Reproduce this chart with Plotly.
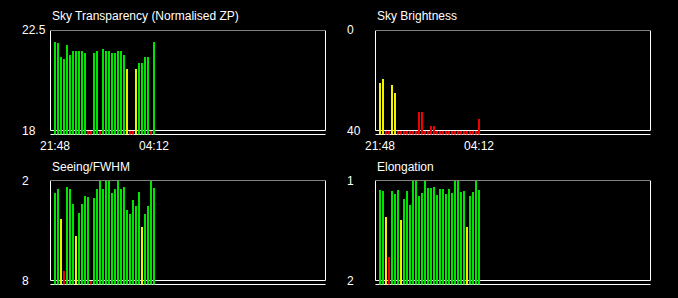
import plotly.graph_objects as go

# ---------------- data ----------------
time_labels = ["21:48", "04:12"]
n_bars = 34
slots = list(range(n_bars))

transparency = [22.0, 21.95, 21.31, 21.23, 21.85, 21.44, 21.58, 21.62, 21.62, 21.62,
                21.49, 18.0, 18.0, 21.53, 21.62, 18.0, 21.67, 21.62, 21.58, 21.53,
                21.49, 21.62, 21.62, 21.44, 20.81, 18.0, 18.0, 20.81, 21.08, 21.04,
                21.31, 21.35, 18.0, 22.0]
transparency_flags = list("ggggggggggg" + "rr" + "gg" + "r" + "gggggggg" + "y" + "rr" + "y" + "gggg" + "r" + "g")

brightness = [20.6, 19.0, 40, 40, 21.4, 24.6, 40, 40, 40, 40,
              40, 40, 40, 32.2, 32.2, 40, 40, 37.8, 37.8, 40,
              40, 40, 40, 40, 40, 40, 40, 40, 40, 40,
              40, 40, 40, 35.0]
brightness_flags = list("yyrryy" + "r" * 28)

seeing = [2.69, 2.45, 4.25, 7.37, 2.33, 2.45, 3.35, 5.27, 3.89, 3.35,
          2.87, 2.93, 7.97, 2.99, 2.45, 2.0, 2.45, 2.0, 2.0, 2.69,
          2.45, 2.0, 2.45, 2.33, 3.71, 3.95, 3.11, 3.47, 2.63, 4.73,
          3.95, 3.47, 2.0, 2.39]
seeing_flags = list("ggyrgggyggggr" + "g" * 16 + "y" + "gggg")

elongation = [1.085, 1.095, 1.355, 1.755, 1.095, 1.125, 1.085, 1.385, 1.175, 1.095,
              1.235, 1.0, 1.0, 1.145, 1.115, 1.0, 1.065, 1.065, 1.055, 1.135,
              1.075, 1.075, 1.125, 1.075, 1.115, 1.0, 1.0, 1.105, 1.095, 1.455,
              1.145, 1.105, 1.0, 1.085]
elongation_flags = list("ggyrgggy" + "g" * 21 + "y" + "gggg")

titles = ["Sky Transparency (Normalised ZP)", "Sky Brightness", "Seeing/FWHM", "Elongation"]
y_tops = [22.5, 0, 2, 1]
y_bottoms = [18, 40, 8, 2]
y_top_labels = ["22.5", "0", "2", "1"]
y_bottom_labels = ["18", "40", "8", "2"]
show_time_labels = [True, True, False, False]

# ---------------- style / layout ----------------
W, H = 678, 298
FLAG_COLORS = {"g": "#00e400", "y": "#f2f200", "r": "#f00000"}
FONT = "Liberation Sans, Arial, sans-serif"
TEXT = "#ffffff"
FS = 12

series = [(transparency, transparency_flags), (brightness, brightness_flags),
          (seeing, seeing_flags), (elongation, elongation_flags)]
# panel pixel geometry: (box left, box top)
geom = [(50.5, 30.5), (375.5, 30.5), (50.5, 180.5), (375.5, 180.5)]
BOX_W, BOX_H, GAP = 275, 100, 4

fig = go.Figure()
annotations = []
shapes = []
layout = {}

for i, ((vals, flags), (lx, ty)) in enumerate(zip(series, geom), start=1):
    top, bot = y_tops[i - 1], y_bottoms[i - 1]
    base = bot + (bot - top) * GAP / BOX_H
    sfx = "" if i == 1 else str(i)
    xa, ya = f"x{sfx}", f"y{sfx}"
    fig.add_trace(go.Bar(
        x=slots, y=[v - base for v in vals], base=base, width=2 / 3,
        marker=dict(color=[FLAG_COLORS[f] for f in flags], line=dict(width=0)),
        xaxis=xa, yaxis=ya, showlegend=False, hoverinfo="skip"))
    left = -3.5 / 3
    layout[f"xaxis{sfx}"] = dict(domain=[lx / W, (lx + BOX_W) / W], range=[left, left + BOX_W / 3],
                                 visible=False, fixedrange=True, anchor=ya)
    layout[f"yaxis{sfx}"] = dict(domain=[1 - (ty + BOX_H + GAP) / H, 1 - ty / H], range=[base, top],
                                 visible=False, fixedrange=True, anchor=xa)
    # box
    shapes.append(dict(type="rect", xref=f"{xa} domain", yref=ya, x0=0, x1=1, y0=bot, y1=top,
                       line=dict(color="#ffffff", width=1), layer="below"))
    # base line
    shapes.append(dict(type="line", xref=f"{xa} domain", yref=f"{ya} domain", x0=0, x1=1, y0=0, y1=0,
                       line=dict(color="#ffffff", width=1), layer="below"))
    # title
    annotations.append(dict(text=titles[i - 1], xref="paper", yref="paper",
                            x=(lx - 0.5) / W, y=1 - (ty - 14) / H, xanchor="left", yanchor="middle",
                            showarrow=False, font=dict(family=FONT, size=FS, color=TEXT)))
    # y labels
    lab_x = (lx - 31) / W
    for val, txt in ((top, y_top_labels[i - 1]), (bot, y_bottom_labels[i - 1])):
        annotations.append(dict(text=txt, xref="paper", yref=ya, x=lab_x, y=val,
                                xanchor="left", yanchor="middle", showarrow=False,
                                font=dict(family=FONT, size=FS, color=TEXT)))
    # x labels
    if show_time_labels[i - 1]:
        for sx, txt in ((slots[0], time_labels[0]), (slots[-1], time_labels[1])):
            annotations.append(dict(text=txt, xref=xa, yref="paper", x=sx, xshift=1,
                                    y=1 - (ty + 115) / H, xanchor="center", yanchor="middle",
                                    showarrow=False, font=dict(family=FONT, size=FS, color=TEXT)))

fig.update_layout(
    width=W, height=H, margin=dict(l=0, r=0, t=0, b=0),
    paper_bgcolor="#000000", plot_bgcolor="#000000",
    shapes=shapes, annotations=annotations, bargap=0, **layout)

fig.write_html("out.html")
